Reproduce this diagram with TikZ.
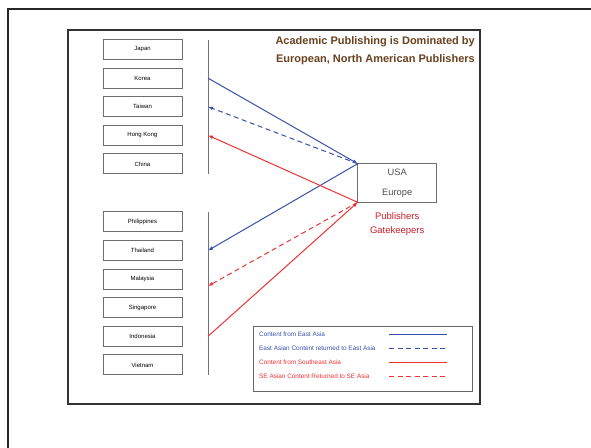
\documentclass[tikz,border=0pt]{standalone}
\usepackage{fontspec}
\setmainfont{Liberation Sans}
\usetikzlibrary{positioning, arrows.meta}

\definecolor{eastblue}{RGB}{55,80,170}
\definecolor{sered}{RGB}{238,50,50}
\definecolor{titlebrown}{RGB}{105,65,30}
\definecolor{gatered}{RGB}{205,30,40}
\definecolor{boxgray}{RGB}{110,110,110}

\begin{document}
\begin{tikzpicture}[
    x=1pt, y=-1pt,
    node distance=8.6pt,
    country/.style={
        rectangle,
        draw=boxgray,
        line width=0.9pt,
        outer sep=0pt,
        minimum width=79pt,
        minimum height=20pt,
        inner sep=0pt,
        font=\fontsize{6}{7}\selectfont
    },
    pubbox/.style={
        rectangle,
        draw=boxgray,
        line width=0.9pt,
        outer sep=0pt,
        align=center,
        minimum width=79pt,
        minimum height=38.6pt,
        text=black!70,
        font=\fontsize{9.3}{20}\selectfont
    },
    key/.style={
        anchor=west,
        inner sep=0pt,
        font=\fontsize{6.4}{7}\selectfont
    },
    axis/.style={
        draw=black!55,
        line width=0.9pt
    },
    arrow/.style={
        -{Latex[length=5pt, width=4pt]},
        line width=1pt
    },
    dashline/.style={
        dash pattern=on 5pt off 3.5pt
    }
]

\useasboundingbox (0,0) rectangle (591,447);
\draw[line width=1.5pt, black!85] (8,9) rectangle (600,460);
\draw[line width=1.2pt, black!80] (68,30) rectangle (480,404);

\node[anchor=north east, align=right, inner sep=0pt, text=titlebrown,
      font=\bfseries\fontsize{11}{17.4}\selectfont] (title) at (475,36.5)
    {Academic Publishing is Dominated by\\European, North American Publishers};

\node[country] (japan) at (142.5,49.5) {Japan};
\node[country, below=of japan] (korea) {Korea};
\node[country, below=of korea] (taiwan) {Taiwan};
\node[country, below=of taiwan] (hongkong) {Hong Kong};
\node[country, below=of hongkong] (china) {China};

\node[country, below=38pt of china] (philippines) {Philippines};
\node[country, below=of philippines] (thailand) {Thailand};
\node[country, below=of thailand] (malaysia) {Malaysia};
\node[country, below=of malaysia] (singapore) {Singapore};
\node[country, below=of singapore] (indonesia) {Indonesia};
\node[country, below=of indonesia] (vietnam) {Vietnam};

\coordinate (eastTop) at (208,40);
\coordinate (eastBot) at (208,174);
\coordinate (seTop) at (208,212);
\coordinate (seBot) at (208,375);
\draw[axis] (eastTop) -- (eastBot);
\draw[axis] (seTop) -- (seBot);

\node[pubbox] (pub) at (397.2,183) {USA\\Europe};
\node[below=10pt of pub, align=center, inner sep=0pt, text=gatered,
      font=\fontsize{9.5}{14}\selectfont] (gate) {Publishers\\Gatekeepers};

\draw[arrow, eastblue] (korea -| eastTop) -- (pub.north west);
\draw[arrow, eastblue, dashline] (pub.north west) -- (taiwan -| eastTop);
\draw[arrow, eastblue] (pub.north west) -- (thailand -| eastTop);
\draw[arrow, sered] (pub.south west) -- (hongkong -| eastTop);
\draw[arrow, sered, dashline] (pub.south west) -- ([yshift=-7pt]malaysia -| seTop);
\draw[arrow, sered] (indonesia -| seTop) -- (pub.south west);

\node[draw=black!60, line width=0.8pt, minimum width=219.4pt, minimum height=65.7pt]
    (legend) at (363,358.8) {};
\node[key, text=eastblue] (keyA) at (259,334.3) {Content from East Asia};
\node[key, text=eastblue] (keyB) at (259,348.3) {East Asian Content returned to East Asia};
\node[key, text=sered] (keyC) at (259,362) {Content from Southeast Asia};
\node[key, text=sered] (keyD) at (259,376.3) {SE Asian Content Returned to SE Asia};

\coordinate (lineA) at (389,334.3);
\coordinate (lineB) at (389,348.3);
\coordinate (lineC) at (389,362);
\coordinate (lineD) at (389,376.3);
\draw[eastblue, line width=1pt] (lineA) -- ++(57.7,0);
\draw[eastblue, line width=1pt, dashline] (lineB) -- ++(57.7,0);
\draw[sered, line width=1pt] (lineC) -- ++(57.7,0);
\draw[sered, line width=1pt, dashline] (lineD) -- ++(57.7,0);

\end{tikzpicture}
\end{document}
